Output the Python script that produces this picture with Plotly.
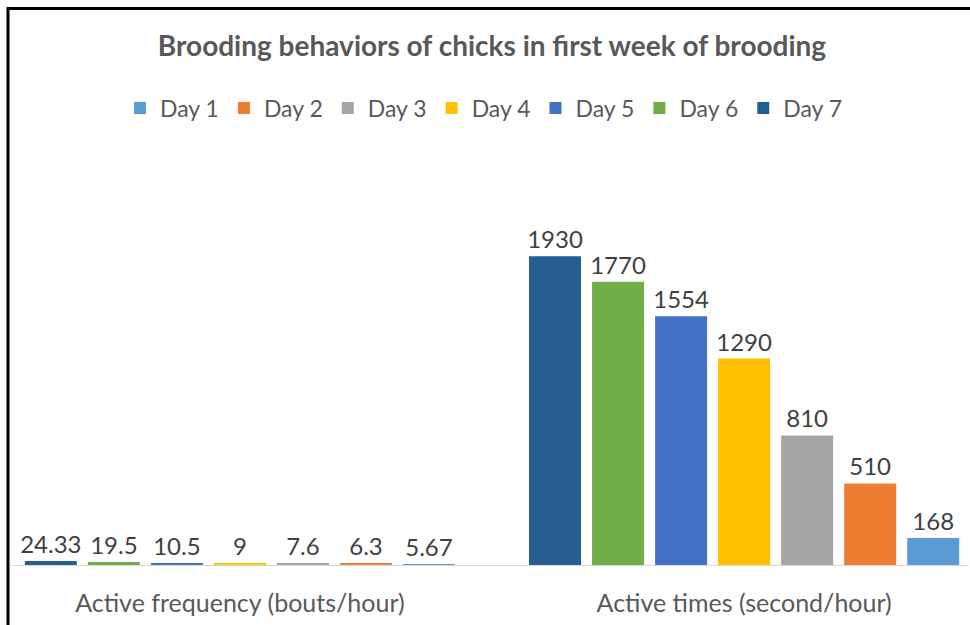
import plotly.graph_objects as go

categories = ["Active frequency (bouts/hour)", "Active times (second/hour)"]
days = ["Day 1", "Day 2", "Day 3", "Day 4", "Day 5", "Day 6", "Day 7"]
active_frequency = [5.67, 6.3, 7.6, 9, 10.5, 19.5, 24.33]
active_times = [168, 510, 810, 1290, 1554, 1770, 1930]
colors = ["#5B9BD5", "#ED7D31", "#A5A5A5", "#FFC000", "#4472C4", "#70AD47", "#255E91"]

FONT = "Lato"
fig = go.Figure()
for i in reversed(range(len(days))):
    vals = [active_frequency[i], active_times[i]]
    fig.add_trace(go.Bar(
        name=days[i], x=categories, y=vals,
        marker=dict(color=colors[i], line=dict(width=0)),
        text=[f"{v:g}" for v in vals], textposition="outside",
        constraintext="none",
        textfont=dict(family=FONT, size=24, color="#404040"),
        cliponaxis=False,
    ))

L, R, T, B = 10, 1, 165, 60
W, H = 970, 625
pw, ph = W - L - R, H - T - B

def px(x):
    return (x - L) / pw

def py(y):
    return (H - B - y) / ph

fig.update_layout(
    width=W, height=H,
    margin=dict(l=L, r=R, t=T, b=B),
    paper_bgcolor="white", plot_bgcolor="white",
    barmode="group", bargap=0.125, bargroupgap=0.175,
    title=dict(text="<b>Brooding behaviors of chicks in first week of brooding</b>",
               x=492 / W, y=1 - 46 / H, xanchor="center", yanchor="middle",
               font=dict(family=FONT, size=28, color="#595959")),
    legend=dict(orientation="h", traceorder="reversed",
                x=px(484), y=py(108), xanchor="center", yanchor="middle",
                font=dict(family=FONT, size=23, color="#595959")),
    xaxis=dict(range=[-0.456, 1.446], showline=True, linecolor="#D9D9D9", linewidth=1,
               ticks="outside", ticklen=16, tickcolor="rgba(0,0,0,0)",
               tickfont=dict(family=FONT, size=25, color="#595959"),
               showgrid=False, zeroline=False),
    yaxis=dict(range=[0, 2500], visible=False, showgrid=False, zeroline=False),
    showlegend=True,
    shapes=[
        dict(type="line", xref="paper", yref="paper", x0=px(8), x1=px(8), y0=py(7), y1=py(630),
             line=dict(color="black", width=3)),
        dict(type="line", xref="paper", yref="paper", x0=px(7), x1=px(975), y0=py(8.5), y1=py(8.5),
             line=dict(color="black", width=3)),
    ],
)

fig.write_html("out.html", config={"displayModeBar": False})
